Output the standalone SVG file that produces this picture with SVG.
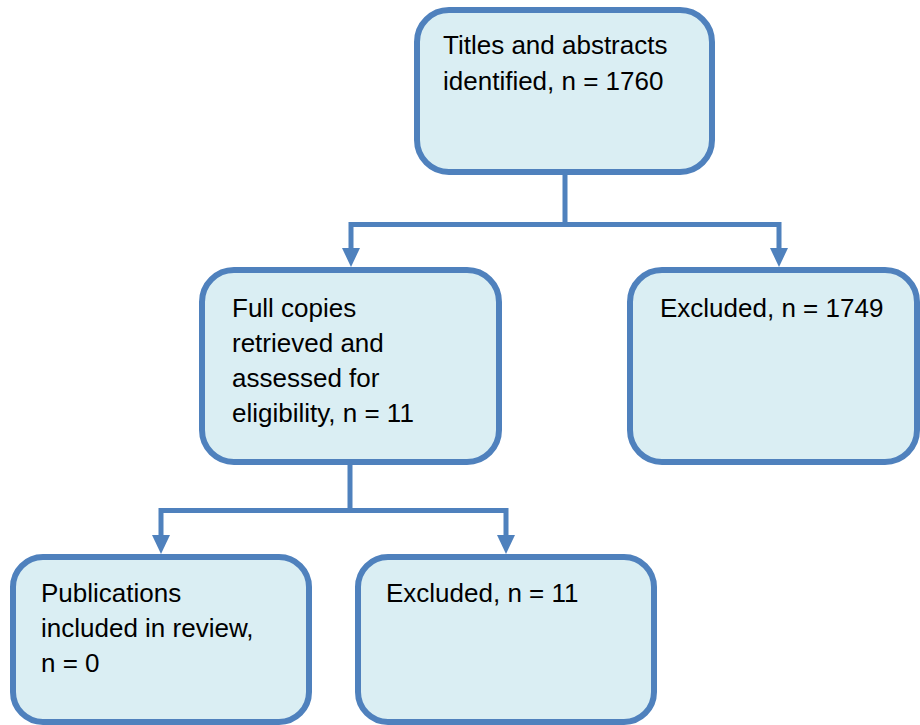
<svg xmlns="http://www.w3.org/2000/svg" width="920" height="725" viewBox="0 0 920 725">
<style>
.box{fill:#DAEEF3;stroke:#4F81BD;stroke-width:6}
.lbl{font-family:"Liberation Sans",Arial,sans-serif;font-size:26px;fill:#000}
.conn{fill:none;stroke:#4F81BD;stroke-width:5;stroke-linejoin:miter}
</style>
<defs>
<marker id="ah" markerUnits="userSpaceOnUse" markerWidth="19" markerHeight="18" viewBox="0 0 19 18" refX="1" refY="9" orient="auto">
<path d="M0,0 L19,9 L0,18 Z" fill="#4F81BD"/>
</marker>
</defs>
<rect width="920" height="725" fill="#fff"/>
<g id="connectors">
<path class="conn" d="M565,175 V224.5 H351 V249" marker-end="url(#ah)"/>
<path class="conn" d="M565,224.5 H779 V249" marker-end="url(#ah)"/>
<path class="conn" d="M350,465 V510.5 H161 V536" marker-end="url(#ah)"/>
<path class="conn" d="M350,510.5 H506 V536" marker-end="url(#ah)"/>
</g>
<g id="n1">
<rect class="box" x="417" y="10" width="295" height="162" rx="32"/>
<text class="lbl" x="443" y="54">Titles and abstracts</text>
<text class="lbl" x="443" y="90">identified, n = 1760</text>
</g>
<g id="n2">
<rect class="box" x="202" y="270" width="297" height="192" rx="32"/>
<text class="lbl" x="232" y="317">Full copies</text>
<text class="lbl" x="232" y="352">retrieved and</text>
<text class="lbl" x="232" y="387">assessed for</text>
<text class="lbl" x="232" y="422">eligibility, n = 11</text>
</g>
<g id="n3">
<rect class="box" x="630" y="270" width="287" height="192" rx="32"/>
<text class="lbl" x="660" y="317">Excluded, n = 1749</text>
</g>
<g id="n4">
<rect class="box" x="13" y="557" width="296" height="165" rx="30"/>
<text class="lbl" x="41" y="602">Publications</text>
<text class="lbl" x="41" y="637">included in review,</text>
<text class="lbl" x="41" y="672">n = 0</text>
</g>
<g id="n5">
<rect class="box" x="358" y="557" width="296" height="165" rx="30"/>
<text class="lbl" x="386" y="602">Excluded, n = 11</text>
</g>
</svg>
